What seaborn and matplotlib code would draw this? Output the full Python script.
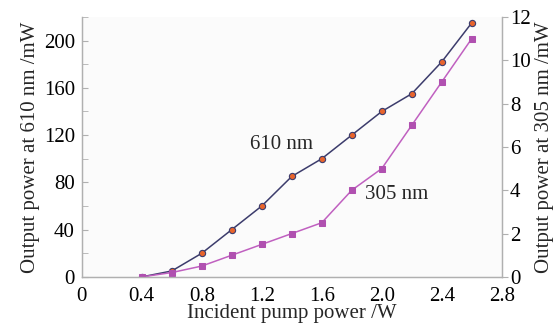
import pandas as pd
import matplotlib.pyplot as plt
import seaborn as sns

# data
pump_power = [0.4, 0.6, 0.8, 1.0, 1.2, 1.4, 1.6, 1.8, 2.0, 2.2, 2.4, 2.6]
power_610 = [0, 5, 20, 40, 60, 85, 100, 120, 140, 155, 182, 215]
power_305 = [0, 0.2, 0.5, 1.0, 1.5, 2.0, 2.5, 4.0, 5.0, 7.0, 9.0, 11.0]

df = pd.DataFrame({'pump': pump_power, 'p610': power_610, 'p305': power_305})

sns.set_style('white')
plt.rcParams['font.family'] = ['Liberation Serif', 'DejaVu Serif']

fig = plt.figure(figsize=(5.6, 3.32), dpi=100, facecolor='white')
ax = fig.add_axes([0.146, 0.166, 0.75, 0.783])
ax.set_facecolor('#fbfbfb')
ax2 = ax.twinx()

sns.lineplot(data=df, x='pump', y='p610', ax=ax, color='#3c3c6c', lw=1.1,
             marker='o', markersize=4.5, markerfacecolor='#e8642c',
             markeredgecolor='#3c3c6c', markeredgewidth=0.8, zorder=3)
sns.lineplot(data=df, x='pump', y='p305', ax=ax2, color='#c060c0', lw=1.1,
             marker='s', markersize=4.5, markerfacecolor='#b050b0',
             markeredgecolor='#b050b0', zorder=2)

ax.set_xlim(0, 2.8)
ax.set_ylim(0, 220)
ax2.set_ylim(0, 12)
ax.set_xticks([0, 0.4, 0.8, 1.2, 1.6, 2.0, 2.4, 2.8])
ax.set_xticklabels(['0', '0.4', '0.8', '1.2', '1.6', '2.0', '2.4', '2.8'])
ax.set_yticks(range(0, 221, 20), minor=True)
ax.set_yticks(range(0, 201, 40))
ax2.set_yticks(range(0, 13, 2))

ax.set_xlabel('Incident pump power /W', fontsize=15, labelpad=-1)
ax.set_ylabel('Output power at 610 nm /mW', fontsize=15, labelpad=3)
ax2.set_ylabel('Output power at 305 nm /mW', fontsize=15, labelpad=3)

for a in (ax, ax2):
    a.spines['top'].set_visible(False)
    for s in ('left', 'bottom', 'right'):
        a.spines[s].set_color('#b0b0b0')
        a.spines[s].set_linewidth(0.9)
    a.tick_params(labelsize=15, colors='#b0b0b0', labelcolor='black', length=4)
ax.tick_params(axis='both', which='both', direction='in', length=4, color='#b0b0b0')
ax2.tick_params(axis='y', direction='out', pad=2)
ax.tick_params(axis='x', pad=7)
ax.tick_params(axis='y', pad=5)

ax.text(1.12, 108, '610 nm', fontsize=15)
ax2.text(1.89, 3.6, '305 nm', fontsize=15)

fig.savefig('out.png', dpi=100)
